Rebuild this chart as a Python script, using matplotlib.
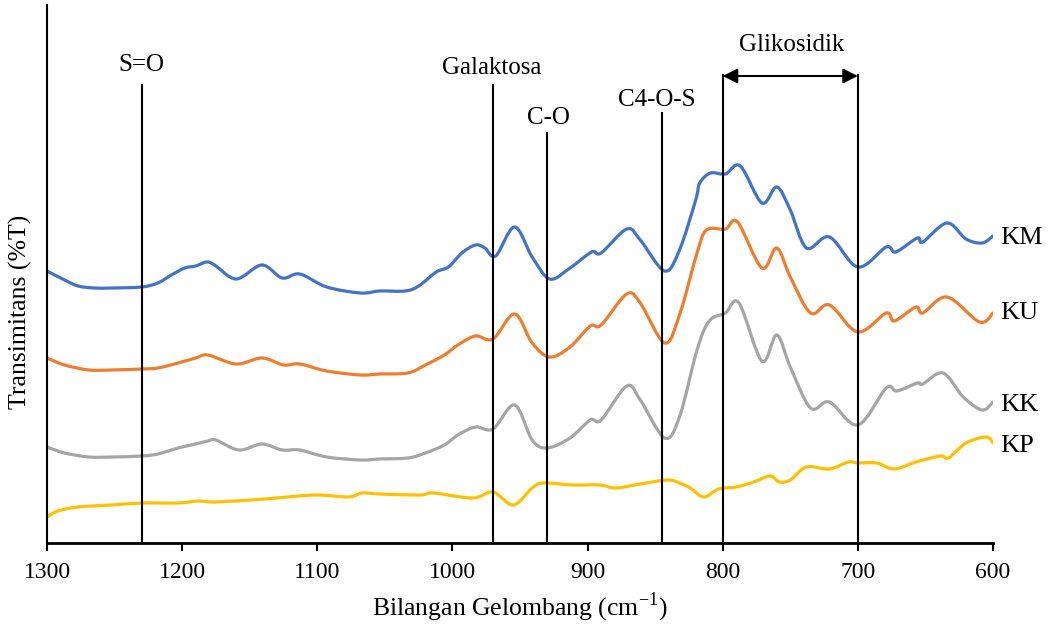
import matplotlib
matplotlib.use("Agg")
import numpy as np
import matplotlib.pyplot as plt
from matplotlib.path import Path
from matplotlib.patches import PathPatch

plt.rcParams['font.family'] = ['Liberation Serif', 'DejaVu Serif']

# wavenumbers (cm-1) and transmittance (arbitrary, offset spectra)
km_x = [1300, 1287, 1277, 1265, 1252, 1230, 1218, 1208, 1198, 1190, 1182, 1176, 1160, 1141, 1126,
        1113, 1093, 1068, 1054, 1035, 1025, 1012, 1003, 993, 983, 976, 968, 954, 941, 928, 913,
        897, 890, 871, 861, 843, 832, 820, 817, 809, 798, 787, 771, 760, 750, 738, 721, 700,
        679, 672, 656, 652, 634, 620, 608, 600]
km_y = [272, 263, 257, 255, 255, 256, 260, 268, 275, 277, 281, 278, 264, 278, 265,
        269, 256, 250, 252, 252, 257, 271, 276, 290, 298, 295, 287, 316, 286, 264, 275,
        291, 290, 314, 303, 272, 293, 343, 360, 370, 369, 377, 340, 356, 333, 295, 306, 276,
        296, 291, 305, 301, 320, 304, 300, 307]

ku_x = [1300, 1287, 1269, 1252, 1230, 1218, 1203, 1190, 1181, 1160, 1141, 1125, 1113, 1093, 1068,
        1054, 1033, 1020, 1006, 996, 983, 970, 954, 941, 928, 913, 898, 890, 871, 861, 843,
        832, 819, 812, 798, 789, 771, 760, 750, 735, 721, 700, 679, 673, 657, 652, 634, 610, 600]
ku_y = [185, 178, 173, 173, 174, 175, 180, 185, 188, 179, 185, 178, 179, 172, 168,
        169, 170, 178, 188, 198, 207, 204, 229, 200, 186, 196, 217, 218, 249, 240, 200,
        228, 290, 313, 314, 321, 275, 295, 266, 230, 238, 211, 230, 222, 236, 230, 246, 221, 230]

kk_x = [1300, 1287, 1269, 1252, 1230, 1218, 1203, 1190, 1181, 1175, 1158, 1141, 1126, 1113, 1093,
        1068, 1054, 1033, 1020, 1006, 996, 983, 970, 954, 941, 930, 913, 898, 890, 871, 861,
        843, 832, 819, 810, 798, 788, 771, 760, 750, 735, 721, 700, 679, 671, 656, 652, 637,
        622, 608, 600]
kk_y = [96, 90, 86, 86, 87, 89, 95, 99, 102, 103, 93, 99, 93, 93, 86,
        83, 84, 85, 90, 98, 108, 116, 114, 138, 103, 95, 105, 123, 123, 157, 143,
        105, 126, 193, 222, 230, 240, 182, 208, 176, 135, 141, 118, 155, 152, 160, 159, 170,
        146, 133, 141]

kp_x = [1300, 1292, 1277, 1252, 1230, 1203, 1188, 1175, 1139, 1102, 1077, 1067, 1054, 1024, 1014,
        985, 970, 955, 941, 933, 911, 891, 879, 861, 841, 832, 824, 814, 803, 790, 777,
        765, 758, 750, 738, 721, 707, 700, 686, 673, 657, 639, 633, 620, 605, 600]
kp_y = [26, 32, 36, 38, 40, 40, 42, 41, 44, 48, 46, 50, 49, 48, 50,
        45, 51, 38, 55, 60, 58, 58, 55, 59, 63, 60, 55, 46, 54, 56, 61,
        67, 61, 63, 76, 74, 81, 80, 80, 74, 81, 87, 85, 100, 106, 100]

series_names = ['KM', 'KU', 'KK', 'KP']
series_colors = ['#4472C4', '#ED7D31', '#A5A5A5', '#FFC000']
name_y = [305, 230, 138, 97]

band_names = ['S=O', 'Galaktosa', 'C-O', 'C4-O-S']
band_pos = [1230, 970, 930, 845]
band_top = [458, 458, 410, 430]
band_label_x = [1230, 971, 929, 849]
band_label_y = [478, 475, 425, 443]
glyco_range = [800, 700]
glyco_top = 468


def smooth_path(x, y):
    # smoothed line like a spreadsheet chart: cubic Bezier through every point
    p = np.column_stack([x, y]).astype(float)
    verts = [p[0]]
    codes = [Path.MOVETO]
    n = len(p)
    for i in range(n - 1):
        p0 = p[i - 1] if i > 0 else p[i]
        p3 = p[i + 2] if i + 2 < n else p[i + 1]
        c1 = p[i] + (p[i + 1] - p0) / 6
        c2 = p[i + 1] - (p3 - p[i]) / 6
        verts += [c1, c2, p[i + 1]]
        codes += [Path.CURVE4] * 3
    return Path(verts, codes)


fig = plt.figure(figsize=(10.48, 6.26), dpi=100)
ax = fig.add_axes([47 / 1048, 83 / 626, 946 / 1048, 538 / 626])

xs = [km_x, ku_x, kk_x, kp_x]
ys = [km_y, ku_y, kk_y, kp_y]
for x, y, c, n, ny in zip(xs, ys, series_colors, series_names, name_y):
    ax.add_patch(PathPatch(smooth_path(x, y), fill=False, edgecolor=c, lw=2.3,
                           joinstyle='round', capstyle='round'))
    ax.text(595, ny, n, fontsize=19, va='center', ha='left', clip_on=False)

for nm, p, top, lx, ly in zip(band_names, band_pos, band_top, band_label_x, band_label_y):
    ax.plot([p, p], [0, top], color='black', lw=1.5)
    ax.text(lx, ly, nm, fontsize=18, ha='center', va='center')

for p in glyco_range:
    ax.plot([p, p], [0, glyco_top], color='black', lw=1.5)
ax.annotate('', xy=(glyco_range[1], glyco_top - 1), xytext=(glyco_range[0], glyco_top - 1),
            arrowprops=dict(arrowstyle='<|-|>', color='black', lw=1.5, mutation_scale=22,
                            shrinkA=0, shrinkB=0))
ax.text(sum(glyco_range) / 2 - 1, 498, 'Glikosidik', fontsize=18, ha='center', va='center')

ax.set_xlim(1300, 600)
ax.set_ylim(0, 538)
ax.set_xticks(range(1300, 599, -100))
ax.set_yticks([])
ax.tick_params(axis='x', direction='out', length=6, width=1.5, labelsize=17, pad=8)
for s in ['top', 'right']:
    ax.spines[s].set_visible(False)
ax.spines['left'].set_linewidth(1.5)
ax.spines['bottom'].set_linewidth(2)

fig.text(520 / 1048, 1 - 607 / 626, 'Bilangan Gelombang (cm$^{\\mathregular{-1}}$)', fontsize=18.5,
         ha='center', va='center')
fig.text(20 / 1048, 1 - 312 / 626, 'Transimitans (%T)', fontsize=18.5, rotation=90,
         ha='center', va='center')

fig.savefig('out.png', dpi=100)
